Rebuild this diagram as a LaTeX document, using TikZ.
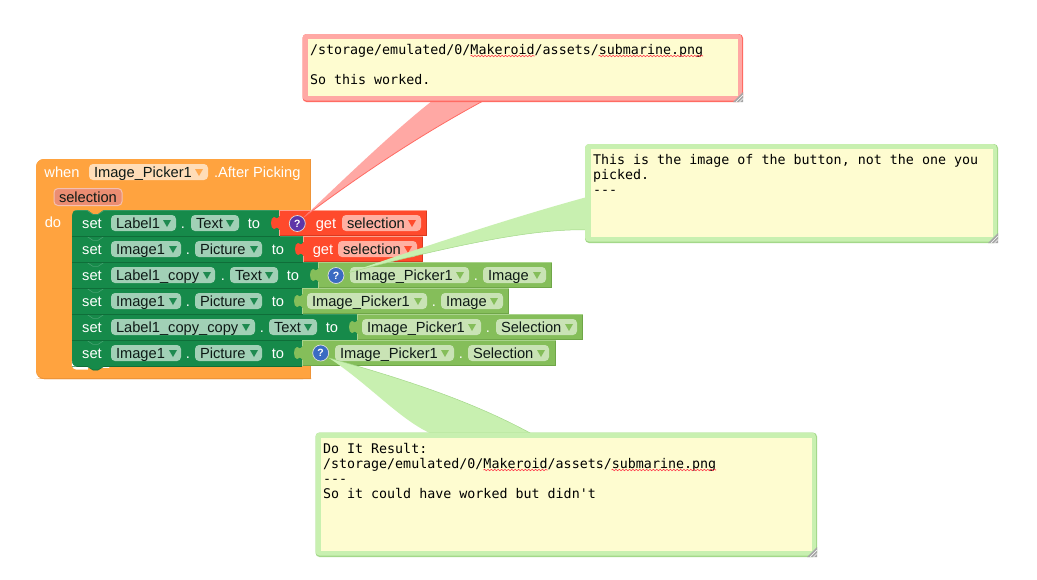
\documentclass[tikz,border=0pt]{standalone}
\usepackage{fontspec}
\setmainfont{Liberation Sans}
\newfontfamily\cmono{DejaVu Sans Mono}
\usetikzlibrary{decorations.pathmorphing}
\definecolor{orangeB}{HTML}{FFA33F}
\definecolor{orangeD}{HTML}{EE9438}
\definecolor{stmt}{HTML}{168A4A}
\definecolor{stmtL}{HTML}{45A06F}
\definecolor{stmtD}{HTML}{0F6E39}
\definecolor{redB}{HTML}{FF4A2C}
\definecolor{redD}{HTML}{D93A20}
\definecolor{redL}{HTML}{FFA08C}
\definecolor{valB}{HTML}{85BE5A}
\definecolor{valD}{HTML}{6FA648}
\definecolor{valL}{HTML}{A9D38B}
\definecolor{fldS}{HTML}{A1D0B6}
\definecolor{fldO}{HTML}{FFDDB8}
\definecolor{fldP}{HTML}{EB8D72}
\definecolor{fldR}{HTML}{FFB0A2}
\definecolor{fldV}{HTML}{C9E3B5}
\definecolor{arrS}{HTML}{1E8A50}
\definecolor{arrO}{HTML}{FFA94F}
\definecolor{arrR}{HTML}{FF4A2C}
\definecolor{arrV}{HTML}{85BE5A}
\definecolor{ink}{HTML}{0E1A16}
\definecolor{noteY}{HTML}{FEFCD0}
\definecolor{rPale}{HTML}{FFA8A4}
\definecolor{rDark}{HTML}{FF6B63}
\definecolor{gPale}{HTML}{C8F0B0}
\definecolor{gDark}{HTML}{A4D88A}
\definecolor{iconP}{HTML}{5E35A8}
\definecolor{iconB}{HTML}{3A6BC2}
\definecolor{squig}{HTML}{FF3A4A}
\tikzset{
  blocktext/.style={inner sep=0pt,outer sep=0pt,font=\fontsize{14.67}{16}\selectfont},
  wtext/.style={blocktext,text=white,anchor=base},
  ftext/.style={blocktext,text=ink,anchor=base west},
  fieldbox/.style={inner sep=0pt,outer sep=0pt,rounded corners=4pt,minimum height=16pt,anchor=west},
  notetext/.style={inner sep=0pt,outer sep=0pt,anchor=base west,text=black,font=\cmono\fontsize{13.33}{15}\selectfont},
  helpicon/.style={circle,inner sep=0pt,minimum size=16pt,draw=white!75!gray,line width=.7pt,text=white,font=\bfseries\fontsize{10.5}{11}\selectfont},
  squiggle/.style={draw=squig,line width=.6pt,decorate,decoration={snake,segment length=3.4pt,amplitude=.7pt}},
}
\newcommand{\fld}[8]{%
  \node[fieldbox,fill=#5,minimum width=#3pt-#2pt] (#1) at (#2,#4+13) {};
  \node[ftext] (#1-t) at (#2+5,#4+18) {#6};
  \fill[#8] (#7-4,#4+10) -- (#7+4,#4+10) -- (#7,#4+17) -- cycle;
}
\newcommand{\stmtrow}[2]{%
  \fill[stmt] (72,#1) -- (#2,#1) -- (#2,#1+26) -- (72,#1+26) -- cycle;
  \draw[stmtD,line width=.8pt] (72,#1+26) -- (#2,#1+26);
  \draw[stmtL,line width=.6pt] (72,#1+.4) -- (87,#1+.4) -- (93,#1+4.4) -- (98,#1+4.4) -- (104,#1+.4) -- (#2,#1+.4);
}
\newcommand{\valblock}[6]{%
  \fill[#4] (#2,#1) rectangle (#3,#1+26);
  \fill[#4] (#2+.5,#1+6.5) .. controls (#2-1,#1+9) and (#2-3,#1+9) .. (#2-5,#1+7)
     .. controls (#2-9,#1+7) and (#2-9,#1+19) .. (#2-5,#1+19)
     .. controls (#2-3,#1+17) and (#2-1,#1+17) .. (#2+.5,#1+19.5) -- cycle;
  \draw[#5,line width=.8pt] (#2,#1+25.6) -- (#3-.4,#1+25.6) -- (#3-.4,#1);
  \draw[#6,line width=.8pt] (#2+.4,#1+25.6) -- (#2+.4,#1+20);
  \draw[#6,line width=.8pt] (#2+.4,#1+6) -- (#2+.4,#1+.4) -- (#3-.4,#1+.4);
}
\newcommand{\notebox}[7]{%
  \fill[#7,rounded corners=4pt] (#2,#3) rectangle (#4,#5);
  \fill[#6,rounded corners=4pt] (#2,#3) rectangle (#4-1.2,#5-1.5);
  \node[inner sep=0pt,outer sep=0pt,fill=noteY,anchor=north west,minimum width=#4pt-#2pt-10.5pt,minimum height=#5pt-#3pt-11pt] (#1) at (#2+5.5,#3+5) {};
  \fill[gray!70] (#4,#5-10) -- (#4,#5) -- (#4-10,#5) -- cycle;
  \draw[white,line width=.5pt] (#4,#5-7) -- (#4-7,#5) (#4,#5-3.5) -- (#4-3.5,#5);
}
\begin{document}
\begin{tikzpicture}[x=1pt,y=-1pt]
\fill[white] (0,0) rectangle (1037,579);
\useasboundingbox (0,0) rectangle (1037,579);

% hat block
\fill[orangeD,rounded corners=8pt] (36,159) -- (311,159) -- (311,379) -- (36,379) -- cycle;
\fill[orangeD] (300,370) rectangle (311,379);
\fill[orangeD] (300,159) rectangle (311,170);
\fill[orangeB,rounded corners=8pt] (36,159) -- (320,159) -- (320,378) -- (36,378) -- cycle;
\fill[white] (305,150) rectangle (330,158.9);
\fill[white] (310.2,150) rectangle (330,390);
\fill[orangeD] (310.2,159) rectangle (311,379);
\fill[orangeD] (36,378) -- (300,378) -- (311,378) -- (311,379) -- (44,379) -- cycle;
\fill[white,rounded corners=4pt] (72,350) rectangle (110,369.5);
\fill[orangeB] (88,367.5) rectangle (110,370);

% statement rows
\stmtrow{340}{302}
\fill[stmt] (87,366) -- (93,370) -- (98,370) -- (104,366) -- cycle;
\draw[stmtD,line width=.6pt] (87,366.3) -- (93,370) -- (98,370) -- (104,366.3);
\fill[white] (72,361) .. controls (72,364.5) and (73.5,366.4) .. (77,366.4) -- (71.9,366.4) -- cycle;
\stmtrow{314}{358}
\stmtrow{288}{303}
\stmtrow{262}{318}
\stmtrow{236}{303}
\stmtrow{210}{280}
\fill[orangeB] (87,209.5) -- (93,213.8) -- (98,213.8) -- (104,209.5) -- cycle;
\fill[orangeB] (71.5,215) -- (72,215) .. controls (72,212) and (73.5,210) .. (77,210) -- (77,209.5) -- (71.5,209.5) -- cycle;

% value blocks
\valblock{340}{302}{556}{valB}{valD}{valL}
\valblock{314}{357}{583}{valB}{valD}{valL}
\valblock{288}{302}{509}{valB}{valD}{valL}
\valblock{262}{318}{552}{valB}{valD}{valL}
\valblock{236}{303}{423}{redB}{redD}{redL}
\valblock{210}{279}{427}{redB}{redD}{redL}

% header
\node[wtext] (when) at (62,177) {when};
\fld{hatf}{89}{208}{159}{fldO}{Image\_Picker1}{199}{arrO}
\node[wtext,anchor=base west] (after) at (214,177) {.After Picking};
\node[inner sep=0pt,rounded corners=4pt,fill=fldP,draw=white!45!fldP,line width=1pt,minimum width=68pt,minimum height=17pt,anchor=west] (argsel) at (53.5,197) {};
\node[ftext] (argselt) at (59,202) {selection};
\node[wtext] (dolabel) at (53,227) {do};

% row 1
\node[wtext] (s1) at (92,228) {set};
\fld{a1}{111}{176}{210}{fldS}{Label1}{167}{arrS}
\node[wtext] (d1) at (183,228) {.};
\fld{b1}{191}{239}{210}{fldS}{Text}{230}{arrS}
\node[wtext] (t1) at (254,228) {to};
\node[wtext] (g1) at (326,228) {get};
\fld{c1}{342}{421}{210}{fldR}{selection}{412}{arrR}
% row 2
\node[wtext] (s2) at (92,254) {set};
\fld{a2}{111}{181}{236}{fldS}{Image1}{173}{arrS}
\node[wtext] (d2) at (188,254) {.};
\fld{b2}{195}{262}{236}{fldS}{Picture}{254}{arrS}
\node[wtext] (t2) at (278,254) {to};
\node[wtext] (g2) at (323,254) {get};
\fld{c2}{338}{417}{236}{fldR}{selection}{408}{arrR}
% row 3
\node[wtext] (s3) at (92,280) {set};
\fld{a3}{111}{215}{262}{fldS}{Label1\_copy}{207}{arrS}
\node[wtext] (d3) at (223,280) {.};
\fld{b3}{230}{278}{262}{fldS}{Text}{269}{arrS}
\node[wtext] (t3) at (293,280) {to};
\fld{c3}{350}{469}{262}{fldV}{Image\_Picker1}{460}{arrV}
\node[wtext] (e3) at (476,280) {.};
\fld{f3}{483}{546}{262}{fldV}{Image}{537}{arrV}
% row 4
\node[wtext] (s4) at (92,306) {set};
\fld{a4}{111}{181}{288}{fldS}{Image1}{173}{arrS}
\node[wtext] (d4) at (188,306) {.};
\fld{b4}{195}{262}{288}{fldS}{Picture}{254}{arrS}
\node[wtext] (t4) at (278,306) {to};
\fld{c4}{307}{427}{288}{fldV}{Image\_Picker1}{418}{arrV}
\node[wtext] (e4) at (434,306) {.};
\fld{f4}{441}{503}{288}{fldV}{Image}{494}{arrV}
% row 5
\node[wtext] (s5) at (92,332) {set};
\fld{a5}{111}{255}{314}{fldS}{Label1\_copy\_copy}{246}{arrS}
\node[wtext] (d5) at (262,332) {.};
\fld{b5}{269}{317}{314}{fldS}{Text}{308}{arrS}
\node[wtext] (t5) at (332,332) {to};
\fld{c5}{362}{481}{314}{fldV}{Image\_Picker1}{472}{arrV}
\node[wtext] (e5) at (488,332) {.};
\fld{f5}{496}{577}{314}{fldV}{Selection}{569}{arrV}
% row 6
\node[wtext] (s6) at (92,358) {set};
\fld{a6}{111}{181}{340}{fldS}{Image1}{173}{arrS}
\node[wtext] (d6) at (188,358) {.};
\fld{b6}{195}{262}{340}{fldS}{Picture}{254}{arrS}
\node[wtext] (t6) at (278,358) {to};
\fld{c6}{335}{454}{340}{fldV}{Image\_Picker1}{445}{arrV}
\node[wtext] (e6) at (461,358) {.};
\fld{f6}{468}{549}{340}{fldV}{Selection}{541}{arrV}

% tail end points
\coordinate (tipA) at (304,217);
\coordinate (tipB) at (349,272.5);
\coordinate (tipC) at (329,358);
\coordinate (baseAl) at (432,101);
\coordinate (baseAr) at (483,101);
\coordinate (baseBu) at (587,197);
\coordinate (baseBl) at (587,230);
\coordinate (baseCl) at (432,434);
\coordinate (baseCr) at (532,434);

% tails
\fill[rPale] (tipA) .. controls (345,178) and (395,130) .. (baseAl) -- (baseAr) .. controls (420,135) and (360,175) .. cycle;
\draw[rDark,line width=.8pt] (tipA) .. controls (360,175) and (420,135) .. (baseAr);
\fill[gPale] (tipB) .. controls (420,248) and (510,218) .. (baseBu) -- (baseBl) .. controls (535,228) and (450,246) .. cycle;
\draw[gDark,line width=.5pt] (tipB) .. controls (450,246) and (535,228) .. (baseBl);
\fill[gPale] (tipC) .. controls (370,385) and (400,420) .. (baseCl) -- (baseCr) .. controls (470,400) and (400,378) .. cycle;
\draw[gDark,line width=.5pt] (tipC) .. controls (400,378) and (470,400) .. (baseCr);

% comment boxes
\notebox{noteA}{302.5}{34}{743}{102}{rPale}{rDark}
\notebox{noteB}{585}{144}{998}{243}{gPale}{gDark}
\notebox{noteC}{315.5}{432.5}{817}{557}{gPale}{gDark}

\node[notetext] (a1t) at (310,54) {/storage/emulated/0/Makeroid/assets/submarine.png};
\node[notetext] (a2t) at (310,84) {So this worked.};
\path[squiggle] (470.5,56) -- (534.5,56);
\path[squiggle] (598.5,56) -- (703,56);

\node[notetext] (b1t) at (593,164) {This is the image of the button, not the one you};
\node[notetext] (b2t) at (593,179) {picked.};
\node[notetext] (b3t) at (593,194) {-{}-{}-};

\node[notetext] (c1t) at (323,453) {Do It Result:};
\node[notetext] (c2t) at (323,468) {/storage/emulated/0/Makeroid/assets/submarine.png};
\node[notetext] (c3t) at (323,483) {-{}-{}-};
\node[notetext] (c4t) at (323,498) {So it could have worked but didn't};
\path[squiggle] (483.5,470) -- (547.5,470);
\path[squiggle] (611.5,470) -- (716,470);

% help icons
\node[helpicon,fill=iconP] (iconA) at (297.3,223.5) {?};
\node[helpicon,fill=iconB] (iconB) at (336,275.5) {?};
\node[helpicon,fill=iconB] (iconC) at (320.7,353) {?};
\end{tikzpicture}
\end{document}
